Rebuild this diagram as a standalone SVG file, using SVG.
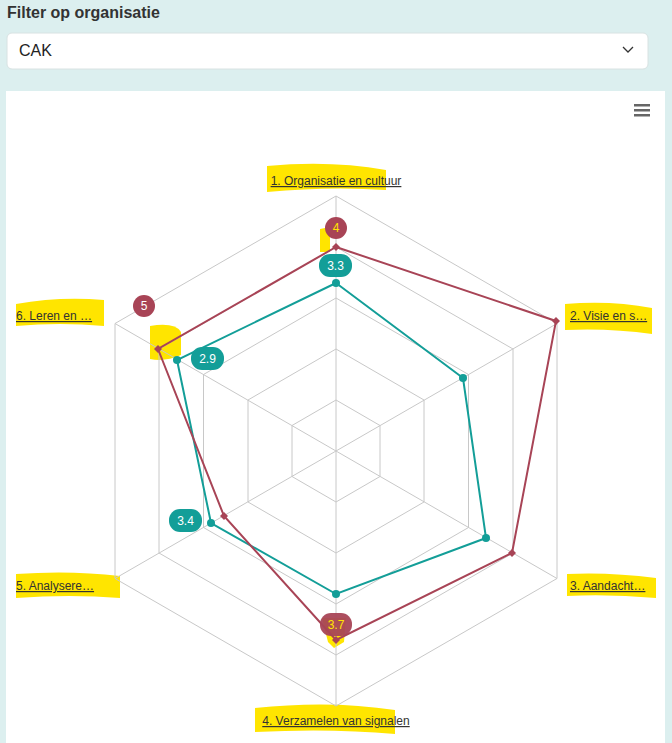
<svg xmlns="http://www.w3.org/2000/svg" width="672" height="743" viewBox="0 0 672 743">
<style>
.g{fill:none;stroke:#c8c8c8;stroke-width:1}
.ax{font-family:"Liberation Sans",Arial,sans-serif;font-size:12px;fill:#333;text-decoration:underline}
.hl{fill:#ffe500}
.lb{font-family:"Liberation Sans",Arial,sans-serif;font-size:12px;fill:#fff;text-anchor:middle}
</style>
<rect width="672" height="743" fill="#dcefef"/>
<text x="7" y="18" font-family="Liberation Sans,Arial,sans-serif" font-size="16" font-weight="bold" fill="#333">Filter op organisatie</text>
<g id="dropdown">
<rect x="7" y="33" width="641" height="36" rx="5" fill="#fff" stroke="#d8e2e2"/>
<text x="19" y="56" font-family="Liberation Sans,Arial,sans-serif" font-size="16" fill="#222">CAK</text>
<path d="M623 47 l5 5 l5 -5" fill="none" stroke="#333" stroke-width="1.3"/>
</g>
<rect x="6" y="91" width="659" height="652" fill="#fff"/>
<g id="menu" fill="#666"><rect x="634" y="104" width="16" height="2.5"/><rect x="634" y="109" width="16" height="2.5"/><rect x="634" y="114" width="16" height="2.5"/></g>
<g id="highlights">
<path class="hl" d="M267 166 Q330 160 386 170 L386 190 Q330 186 267 192 Z"/>
<path class="hl" d="M16 304 Q60 296 104 300 L104 326 Q60 322 16 326 Z"/>
<path class="hl" d="M565 304 Q610 300 652 308 L652 334 Q610 328 565 330 Z"/>
<path class="hl" d="M567 574 Q610 572 656 578 L656 598 Q610 594 567 596 Z"/>
<path class="hl" d="M16 574 Q70 570 120 576 L120 598 Q70 594 16 598 Z"/>
<path class="hl" d="M255 708 Q330 700 395 710 L395 734 Q330 728 255 732 Z"/>
<path class="hl" d="M320 229 L330 227 L330 252 L320 252 Z"/>
<path class="hl" d="M150 326 Q175 322 181 332 L181 355 Q165 362 150 359 Z"/>
<path class="hl" d="M322 618 L346 618 L344 642 L334 648 L328 642 Z"/>
</g>
<g id="grid">
<polygon class="g" points="336,196 557,323.5 557,578.5 336,706 115,578.5 115,323.5"/>
<polygon class="g" points="336,247 513,349 513,553 336,655 159,553 159,349"/>
<polygon class="g" points="336,298 468.5,374.5 468.5,527.5 336,604 203.5,527.5 203.5,374.5"/>
<polygon class="g" points="336,349 424,400 424,502 336,553 248,502 248,400"/>
<polygon class="g" points="336,400 380,425.5 380,476.5 336,502 292,476.5 292,425.5"/>
<path class="g" d="M336 451 L336 196 M336 451 L557 323.5 M336 451 L557 578.5 M336 451 L336 706 M336 451 L115 578.5 M336 451 L115 323.5"/>
</g>
<g id="axis-labels">
<text class="ax" x="336" y="185" text-anchor="middle">1. Organisatie en cultuur</text>
<text class="ax" x="570" y="320">2. Visie en s…</text>
<text class="ax" x="570" y="590">3. Aandacht…</text>
<text class="ax" x="336" y="725" text-anchor="middle">4. Verzamelen van signalen</text>
<text class="ax" x="16" y="590">5. Analysere…</text>
<text class="ax" x="16" y="320">6. Leren en …</text>
</g>
<g id="series">
<polygon points="336,283 463,378 486,538 336,594 211,523 177,360" fill="none" stroke="#139e98" stroke-width="2"/>
<g fill="#139e98"><circle cx="336" cy="283" r="4"/><circle cx="463" cy="378" r="4"/><circle cx="486" cy="538" r="4"/><circle cx="336" cy="594" r="4"/><circle cx="211" cy="523" r="4"/><circle cx="177" cy="360" r="4"/></g>
<polygon points="336,247 556,321 512,553 336,640 224,516 158,349" fill="none" stroke="#a84456" stroke-width="2"/>
<g fill="#a84456"><path d="M336 243l4 4-4 4-4-4z"/><path d="M556 317l4 4-4 4-4-4z"/><path d="M512 549l4 4-4 4-4-4z"/><path d="M336 636l4 4-4 4-4-4z"/><path d="M224 512l4 4-4 4-4-4z"/><path d="M158 345l4 4-4 4-4-4z"/></g>
</g>
<g id="data-labels">
<rect x="319" y="254" width="33" height="23" rx="11" fill="#139e98"/><text class="lb" x="335.5" y="270">3.3</text>
<rect x="191" y="347" width="33" height="23" rx="11" fill="#139e98"/><text class="lb" x="207.5" y="363">2.9</text>
<rect x="169" y="509" width="33" height="23" rx="11" fill="#139e98"/><text class="lb" x="185.5" y="525">3.4</text>
<circle cx="336" cy="228" r="11" fill="#a84456"/><text class="lb" x="336" y="232" fill="#ffe500" style="fill:#ffe500">4</text>
<circle cx="144" cy="306" r="11" fill="#a84456"/><text class="lb" x="144" y="310">5</text>
<rect x="320" y="613" width="32" height="23" rx="11" fill="#a84456" opacity="0.95"/><text class="lb" x="336" y="629" style="fill:#ffe500">3.7</text>
</g>
</svg>
